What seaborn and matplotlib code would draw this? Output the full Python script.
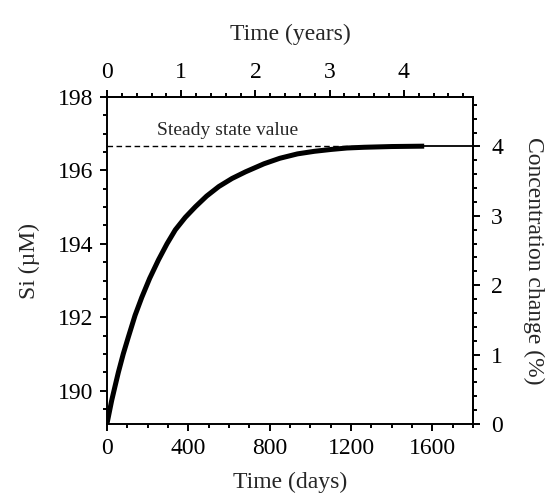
import matplotlib
matplotlib.use("Agg")
import matplotlib.pyplot as plt
from matplotlib.ticker import MultipleLocator
import seaborn as sns
import pandas as pd

# Data
days = [0, 12, 23, 40, 56, 80, 105, 138, 171, 210, 253, 295, 336, 385, 435, 490, 550,
        615, 681, 772, 850, 937, 1020, 1101, 1180, 1265, 1400, 1560]
si = [189.1, 189.43, 189.73, 190.13, 190.5, 191.0, 191.46, 192.05, 192.54, 193.06, 193.56,
      194.0, 194.38, 194.72, 195.01, 195.3, 195.56, 195.78, 195.96, 196.18, 196.33, 196.45,
      196.52, 196.57, 196.61, 196.63, 196.65, 196.66]
steady_state = 196.66
base_si = 189.09
x_ticks = [0, 400, 800, 1200, 1600]
y_ticks = [190, 192, 194, 196, 198]
year_ticks = [0, 1, 2, 3, 4]
pct_ticks = [0, 1, 2, 3, 4]

sns.set_theme(style="ticks")
plt.rcParams['font.family'] = ['Liberation Serif', 'DejaVu Serif']

fig = plt.figure(figsize=(5.47, 5.03), dpi=100)
ax = fig.add_axes([0.1956, 0.157, 0.8647 - 0.1956, 0.8072 - 0.157])

df = pd.DataFrame({"days": days, "si": si})
sns.lineplot(data=df, x="days", y="si", ax=ax, color="black", linewidth=3.6,
             solid_capstyle="butt", solid_joinstyle="round")
ax.hlines(steady_state, 0, 1300, colors="black", linestyles=(0, (4, 2.5)), linewidth=1.0)
ax.hlines(steady_state, 1300, 1800, colors="black", linestyles="solid", linewidth=1.3)
ax.text(593, 196.96, "Steady state value", fontsize=14, ha="center", va="baseline")

ax.set_xlim(0, 1800)
ax.set_ylim(base_si, 198)
ax.set_xticks(x_ticks)
ax.set_yticks(y_ticks)
ax.xaxis.set_minor_locator(MultipleLocator(100))
ax.yaxis.set_minor_locator(MultipleLocator(0.5))
ax.set_xlabel("Time (days)", fontsize=17, labelpad=9)
ax.set_ylabel("Si (µM)", fontsize=17, labelpad=13)

for s in ax.spines.values():
    s.set_color("black")
    s.set_linewidth(1.4)

tick_kw = dict(colors="black", labelsize=17, width=1.4)
ax.tick_params(which="major", direction="out", length=5, pad=5, **tick_kw)
ax.tick_params(which="minor", direction="out", length=3, width=1.4, colors="black")

top = ax.secondary_xaxis("top", functions=(lambda d: d / 365.0, lambda y: y * 365.0))
top.set_xticks(year_ticks)
top.xaxis.set_minor_locator(MultipleLocator(0.2))
top.set_xlabel("Time (years)", fontsize=17, labelpad=16)
top.tick_params(which="major", direction="out", length=5, pad=5, **tick_kw)
top.tick_params(which="minor", direction="out", length=3, width=1.4, colors="black")
top.spines["top"].set_linewidth(1.4)

right = ax.secondary_yaxis("right", functions=(lambda v: (v / base_si - 1) * 100.0,
                                                 lambda p: base_si * (1 + p / 100.0)))
right.set_yticks(pct_ticks)
right.yaxis.set_minor_locator(MultipleLocator(0.2))
right.set_ylabel("Concentration change (%)", fontsize=17, rotation=270, labelpad=30)
right.tick_params(which="major", direction="out", length=5, pad=8, **tick_kw)
right.tick_params(which="minor", direction="out", length=3, width=1.4, colors="black")
right.spines["right"].set_linewidth(1.4)

fig.savefig("out.png", dpi=100)
